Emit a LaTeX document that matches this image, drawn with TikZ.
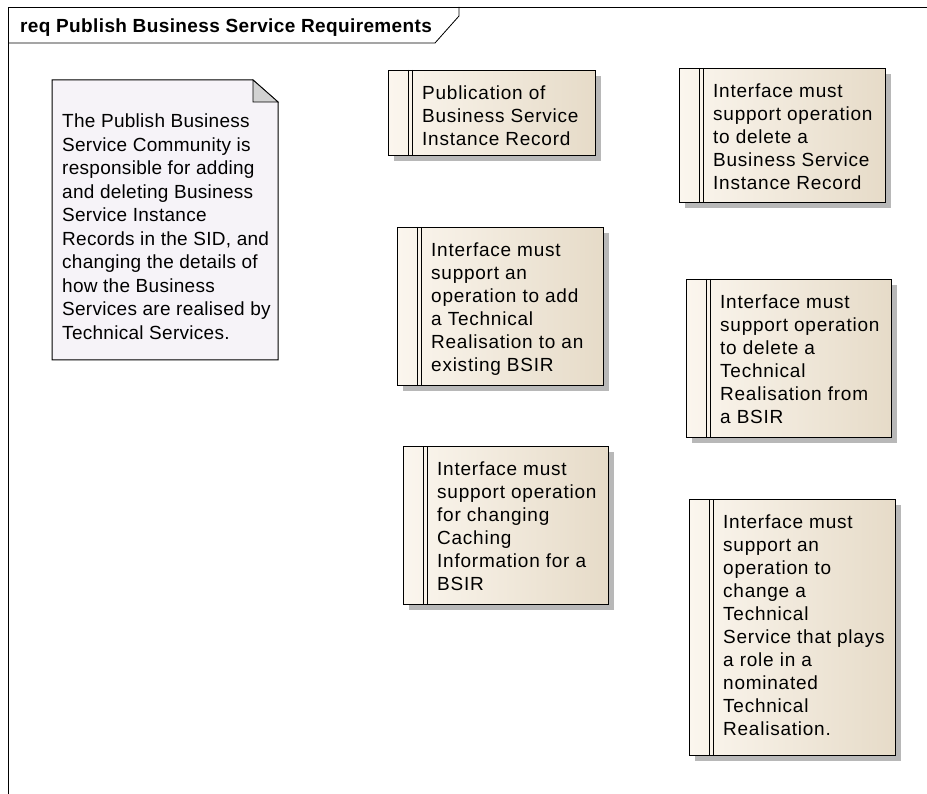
\documentclass[tikz,border=0pt]{standalone}
\usepackage{fontspec}
\setmainfont{Liberation Sans}
\usetikzlibrary{positioning,shadows,calc}

\newfontfamily\reqfont[LetterSpace=4]{Liberation Sans}
\newfontfamily\notefont[LetterSpace=1.5]{Liberation Sans}
\newfontfamily\titlefont[LetterSpace=2]{Liberation Sans}
\definecolor{req-lt}{RGB}{251,246,238}   %requirement fill, left
\definecolor{req-dk}{RGB}{230,219,200}   %requirement fill, right
\definecolor{note-bg}{RGB}{246,243,248}  %note fill
\definecolor{fold-gray}{RGB}{210,210,210}

\tikzset{
  reqbox/.style={draw=black, line width=1.1pt, left color=req-lt, right color=req-dk,
    anchor=north west, inner sep=0pt,
    general shadow={fill=black!28, shadow xshift=5pt, shadow yshift=-5pt}},
  reqtext/.style={anchor=north west, inner sep=0pt, align=left,
    font=\reqfont\fontsize{19}{23}\selectfont},
}

\begin{document}
\begin{tikzpicture}[x=1pt,y=-1pt]  %pixel units, y runs down
  \useasboundingbox (0,0) rectangle (927,794);

  % diagram frame and its tab
  \draw[line width=0.8pt] (927,7) -- (8,7) -- (8,794);
  \draw[line width=0.8pt] (8,43) -- (435,43) -- (459,16) -- (459,7);
  \node[anchor=base west, inner sep=0pt, font=\titlefont\bfseries\fontsize{19}{23}\selectfont] (title) at (20,33)
    {req Publish Business Service Requirements};

  % note with folded corner
  \draw[fill=note-bg, line width=1pt] (52,80) -- (253,80) -- (278,102) -- (278,360) -- (52,360) -- cycle;
  \draw[fill=fold-gray, line width=0.8pt] (253,80) -- (253,102) -- (278,102) -- cycle;
  \node[reqtext, font=\notefont\fontsize{19}{23.5}\selectfont] (note) at (62,114) {The Publish Business\\Service Community is\\responsible for adding\\and deleting Business\\Service Instance\\Records in the SID, and\\changing the details of\\how the Business\\Services are realised by\\Technical Services.};

  % requirements: name/x/y/width/height/text
  \foreach \n/\x/\y/\w/\h/\t in {
      pub/388/70/207/85/{Publication of\\Business Service\\Instance Record},
      delbsir/679/68/206/134/{Interface must\\support operation\\to delete a\\Business Service\\Instance Record},
      addtr/397/227/206/158/{Interface must\\support an\\operation to add\\a Technical\\Realisation to an\\existing BSIR},
      deltr/686/279/205/158/{Interface must\\support operation\\to delete a\\Technical\\Realisation from\\a BSIR},
      cache/403/446/205/158/{Interface must\\support operation\\for changing\\Caching\\Information for a\\BSIR},
      chgts/689/499/206/256/{Interface must\\support an\\operation to\\change a\\Technical\\Service that plays\\a role in a\\nominated\\Technical\\Realisation.}}
  {
    \node[reqbox, minimum width=\w pt, minimum height=\h pt] (\n) at (\x,\y) {};
    \draw[line width=0.9pt] ([xshift=20pt]\n.north west) -- ([xshift=20pt]\n.south west);
    \draw[line width=0.9pt] ([xshift=24pt]\n.north west) -- ([xshift=24pt]\n.south west);
    \node[reqtext] (\n-txt) at ([shift={(34pt,-16pt)}]\n.north west) {\t};
  }
\end{tikzpicture}
\end{document}
